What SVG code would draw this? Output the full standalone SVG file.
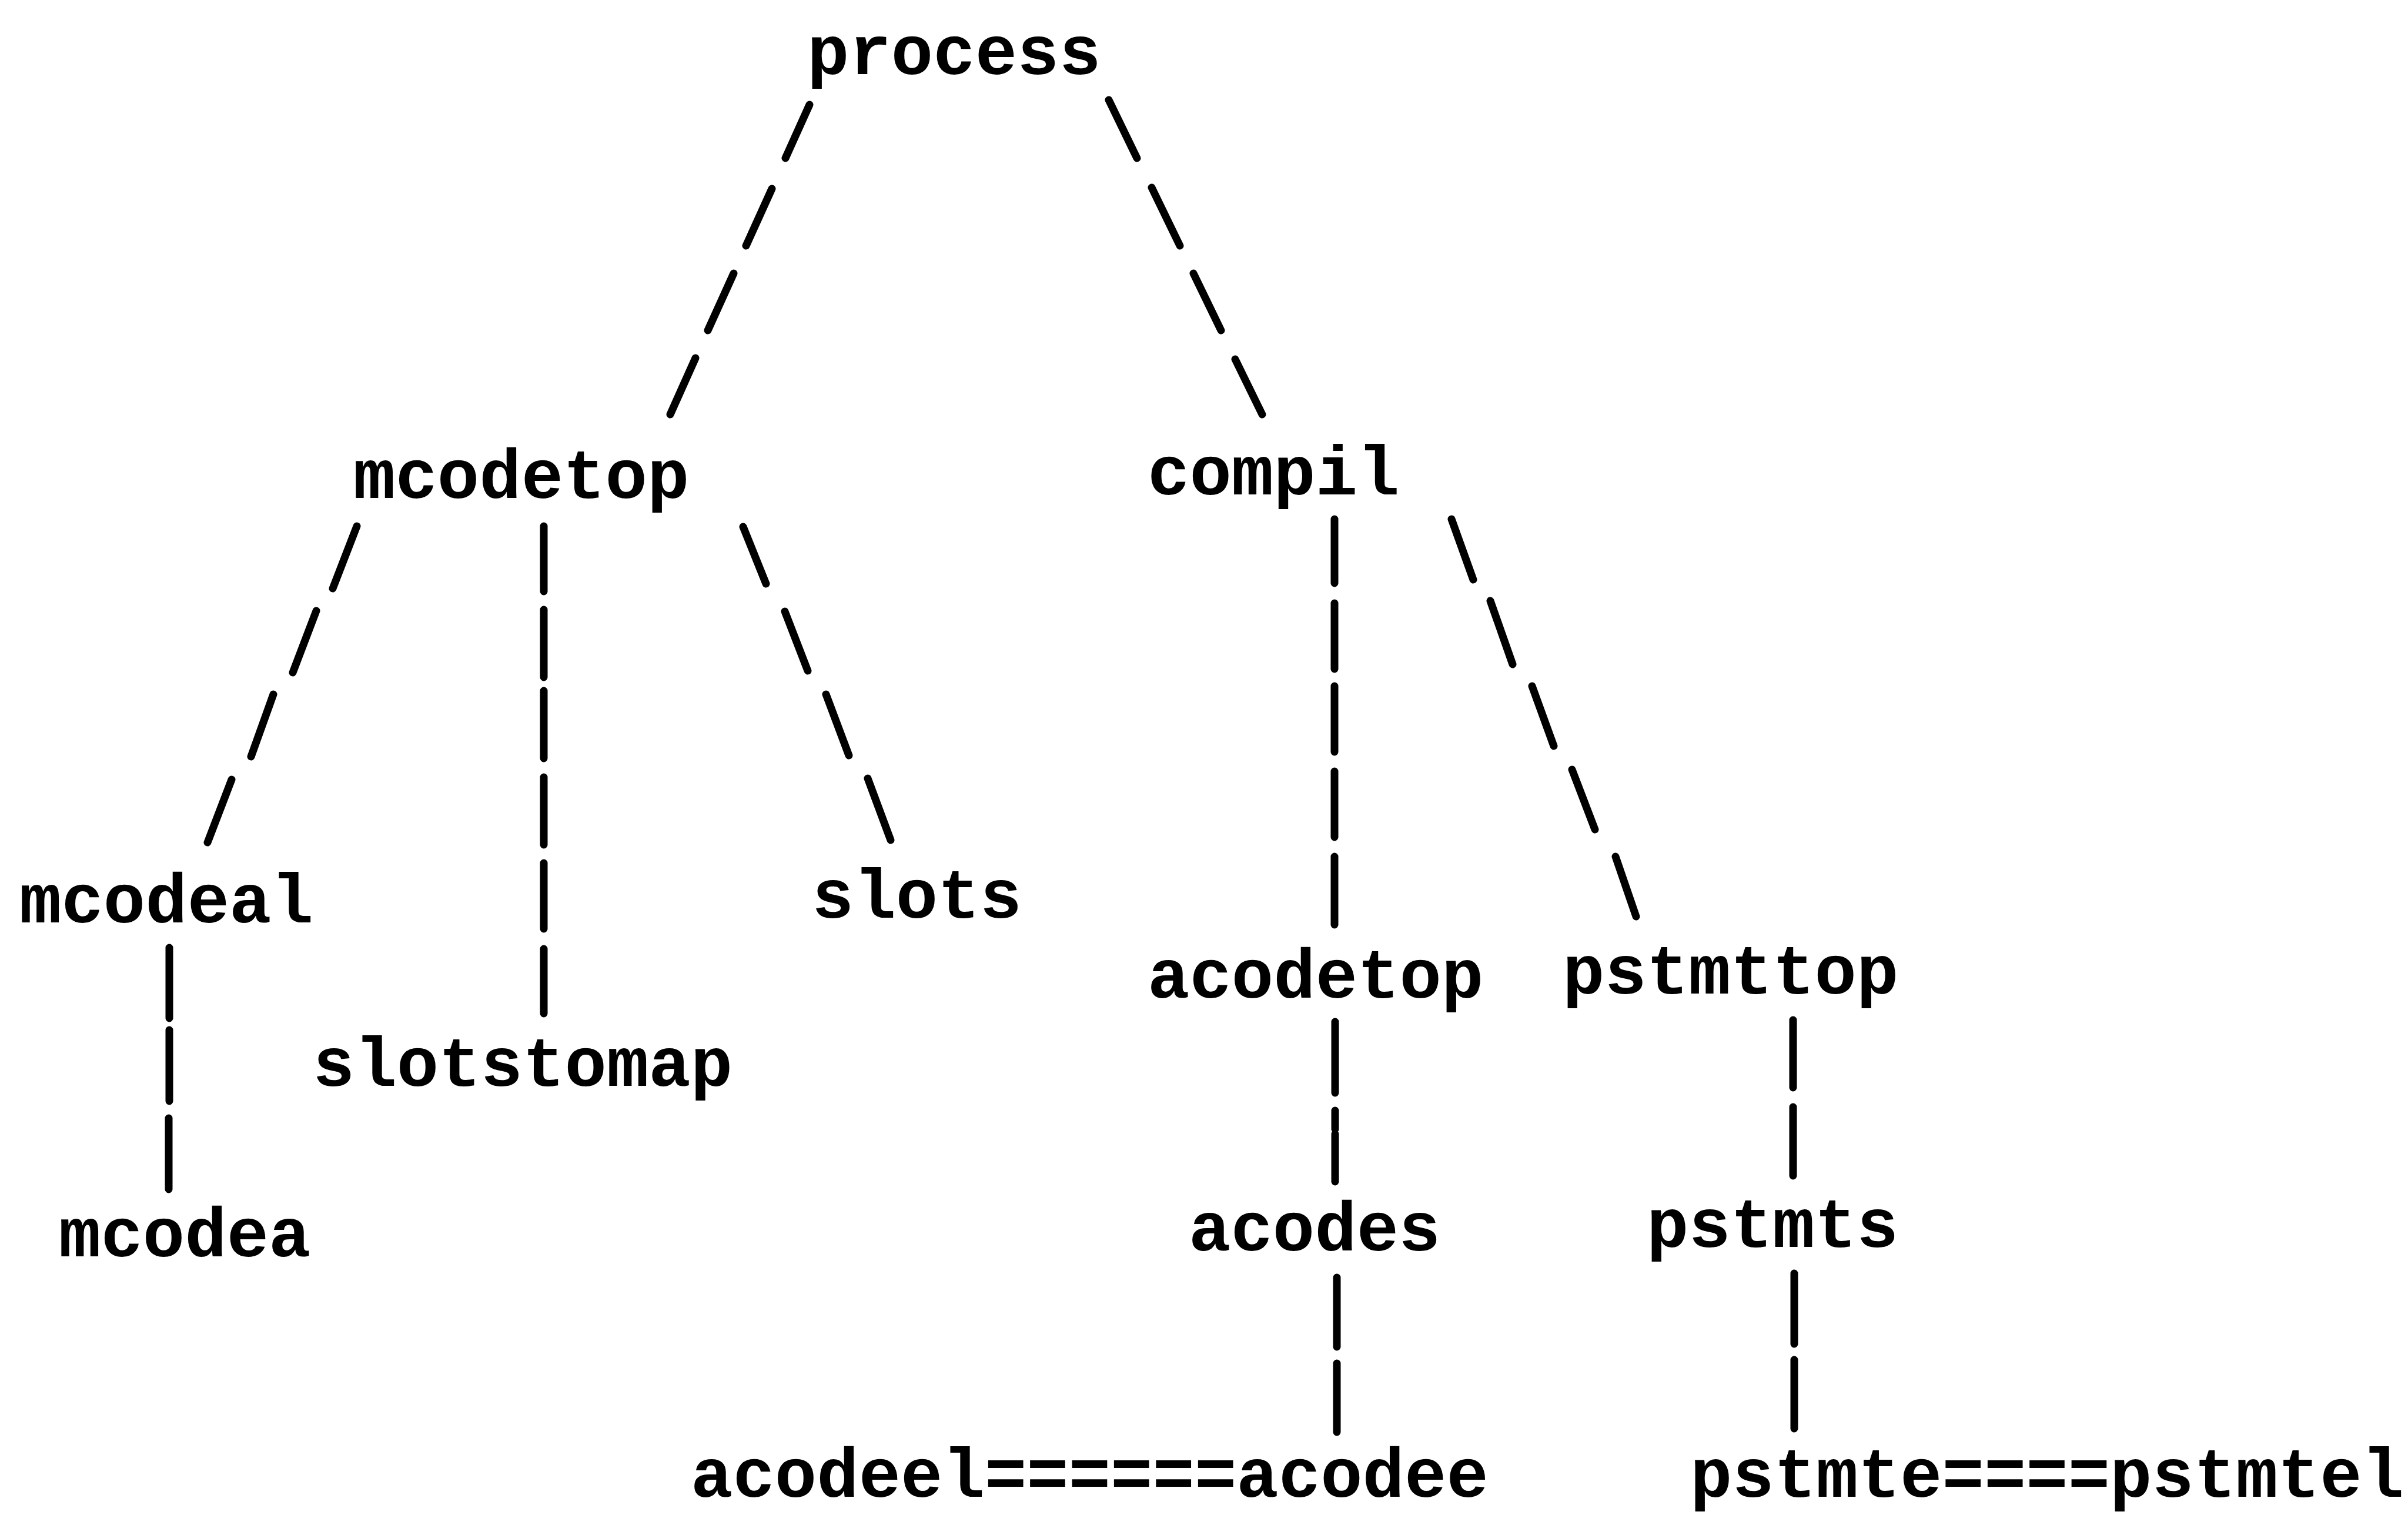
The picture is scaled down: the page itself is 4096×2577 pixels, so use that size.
<svg xmlns="http://www.w3.org/2000/svg" width="4096" height="2577" viewBox="0 0 4096 2577">
  <style>
    .lbl { font-family: "Liberation Mono", "Courier New", monospace; font-weight: bold; font-size: 119px; fill: #000; }
    .dash { stroke: #000; stroke-width: 13; stroke-linecap: round; fill: none; }
  </style>
  <rect width="4096" height="2577" fill="#fff"/>

  <!-- hand-typed dashed tree edges -->
  <g id="connectors" class="dash">
    <path id="e-process-mcodetop" d="M1377,178 L1336,269 M1313,321 L1269,418 M1248,465 L1204,562 M1183,609 L1140,705"/>
    <path id="e-process-compil" d="M1886,170 L1934,269 M1959,319 L2007,418 M2030,465 L2077,562 M2101,611 L2147,705"/>
    <path id="e-mcodetop-mcodeal" d="M607,895 L566,1001 M538,1039 L498,1144 M465,1181 L427,1287 M394,1326 L353,1433"/>
    <path id="e-mcodetop-slotstomap" d="M925,895 L925,1006 M925,1037 L925,1152 M925,1175 L925,1290 M925,1322 L925,1437 M925,1468 L925,1580 M925,1614 L925,1724"/>
    <path id="e-mcodetop-slots" d="M1264,896 L1303,993 M1335,1040 L1374,1141 M1405,1181 L1444,1285 M1476,1324 L1515,1429"/>
    <path id="e-compil-acodetop" d="M2270,883 L2270,992 M2270,1026 L2270,1138 M2270,1167 L2270,1279 M2270,1312 L2270,1424 M2270,1457 L2270,1573"/>
    <path id="e-compil-pstmttop" d="M2469,883 L2506,986 M2535,1022 L2573,1130 M2606,1167 L2643,1269 M2674,1309 L2713,1411 M2748,1457 L2783,1559"/>
    <path id="e-mcodeal-mcodea" d="M288,1612 L288,1732 M288,1752 L288,1873 M287,1902 L287,2023"/>
    <path id="e-acodetop-acodes" d="M2271,1738 L2271,1859 M2271,1889 L2271,1921 M2271,1929 L2271,2010"/>
    <path id="e-pstmttop-pstmts" d="M3050,1735 L3050,1850 M3050,1883 L3050,2000"/>
    <path id="e-acodes-acodeel" d="M2274,2173 L2274,2291 M2274,2319 L2274,2436"/>
    <path id="e-pstmts-pstmte" d="M3052,2166 L3052,2286 M3052,2313 L3052,2430"/>
  </g>

  <g id="n-process"><text class="lbl" x="1373" y="126">process</text></g>
  <g id="n-mcodetop"><text class="lbl" x="601" y="847">mcodetop</text></g>
  <g id="n-compil"><text class="lbl" x="1952" y="841">compil</text></g>
  <g id="n-mcodeal"><text class="lbl" x="33" y="1569">mcodeal</text></g>
  <g id="n-slots"><text class="lbl" x="1381" y="1561">slots</text></g>
  <g id="n-slotstomap"><text class="lbl" x="532" y="1847">slotstomap</text></g>
  <g id="n-mcodea"><text class="lbl" x="100" y="2137">mcodea</text></g>
  <g id="n-acodetop"><text class="lbl" x="1952" y="1697">acodetop</text></g>
  <g id="n-pstmttop"><text class="lbl" x="2658" y="1690">pstmttop</text></g>
  <g id="n-acodes"><text class="lbl" x="2022" y="2127">acodes</text></g>
  <g id="n-pstmts"><text class="lbl" x="2801" y="2121">pstmts</text></g>
  <g id="n-acodeel-acodee"><text class="lbl" x="1175" y="2546">acodeel======acodee</text></g>
  <g id="n-pstmte-pstmtel"><text class="lbl" x="2875" y="2546">pstmte====pstmtel</text></g>
</svg>
